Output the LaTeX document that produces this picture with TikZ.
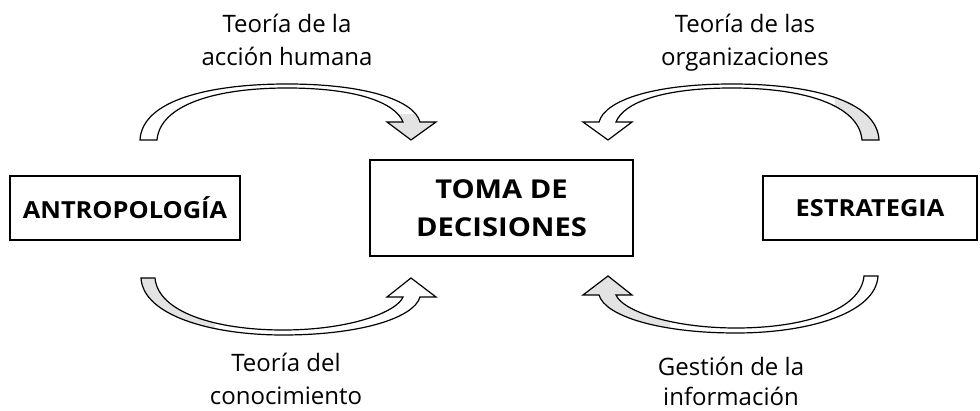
\documentclass[tikz,border=0pt]{standalone}
\usepackage{fontspec}
\setmainfont{Open Sans}
\newfontfamily\sidefont{Open Sans}[FakeStretch=1.08]
\newfontfamily\centerfont{Open Sans}[FakeStretch=1.12]
\newcommand\twolines[2]{\vtop{\halign{\hfil##\hfil\cr #1\cr #2\cr}}}
\begin{document}
\begin{tikzpicture}[x=1pt,y=-1pt,
  box/.style={draw=black,line width=1.4pt,fill=white,inner sep=0pt},
  sidetxt/.style={font=\sidefont\fontsize{23.5}{33}\selectfont\bfseries,align=center},
  centertxt/.style={font=\centerfont\fontsize{26}{38}\selectfont\bfseries,align=center},
  lbl/.style={font=\fontsize{24}{33}\selectfont,anchor=base,inner sep=0pt},
  arrline/.style={draw=black,line width=1.2pt,line join=miter},
]
\definecolor{backgray}{HTML}{E3E3E3}
\useasboundingbox (0,0) rectangle (980,411);

% boxes
\draw[box] (10,176) rectangle (240,240);
\node[sidetxt] (antro) at (125,208) {ANTROPOLOGÍA};
\draw[box] (370,160) rectangle (633,256);
\node[centertxt] (toma) at (501.5,208) {TOMA DE\\DECISIONES};
\draw[box] (763,176) rectangle (977,240);
\node[sidetxt] (estra) at (870,208) {ESTRATEGIA};

% arrow outlines
\def\TLpath{(140,140) .. controls (142,100) and (210,84) .. (287,84) .. controls (365,84) and (414,100) .. (420,122) -- (436,122) -- (411,140) -- (387,122) -- (403,122) .. controls (395,102) and (355,88) .. (287,88) .. controls (215,88) and (160,105) .. (157,140) -- cycle}
\def\TRpath{(879,140) .. controls (877,100) and (809,84) .. (732,84) .. controls (654,84) and (605,100) .. (599,122) -- (583,122) -- (608,140) -- (632,122) -- (616,122) .. controls (624,102) and (664,88) .. (732,88) .. controls (804,88) and (859,105) .. (862,140) -- cycle}
\def\BLpath{(141,278) .. controls (143,315) and (210,335) .. (283,335) .. controls (360,335) and (414,318) .. (420,297) -- (436,297) -- (411,278) -- (387,297) -- (403,297) .. controls (397,312) and (350,330) .. (283,330) .. controls (215,330) and (158,312) .. (155,278) -- cycle}
\def\BRpath{(878,276) .. controls (876,313) and (809,333) .. (736,333) .. controls (659,333) and (605,316) .. (599,295) -- (583,295) -- (608,276) -- (632,295) -- (616,295) .. controls (622,310) and (669,328) .. (736,328) .. controls (804,328) and (861,310) .. (864,276) -- cycle}

% fills
\fill[white] \TLpath;
\begin{scope}\clip (380,115) rectangle (440,145); \fill[backgray] \TLpath;\end{scope}
\fill[white] \TRpath;
\begin{scope}\clip (835,80) rectangle (900,145); \fill[backgray] \TRpath;\end{scope}
\fill[white] \BLpath;
\begin{scope}\clip (130,270) rectangle (215,340); \fill[backgray] \BLpath;\end{scope}
\fill[white] \BRpath;
\begin{scope}\clip (575,270) rectangle (670,340); \fill[backgray] \BRpath;\end{scope}

\draw[arrline] \TLpath;
\draw[arrline] \TRpath;
\draw[arrline] \BLpath;
\draw[arrline] \BRpath;

% labels
\node[lbl] (l1) at (287,33) {\twolines{Teoría de la}{acción humana}};
\node[lbl] (l2) at (745,33) {\twolines{Teoría de las}{organizaciones}};
\node[lbl] (l3) at (286,372) {\twolines{Teoría del}{conocimiento}};
\node[lbl,font=\fontsize{24}{30}\selectfont] (l4) at (731,376) {\twolines{Gestión de la}{información}};
\end{tikzpicture}
\end{document}
